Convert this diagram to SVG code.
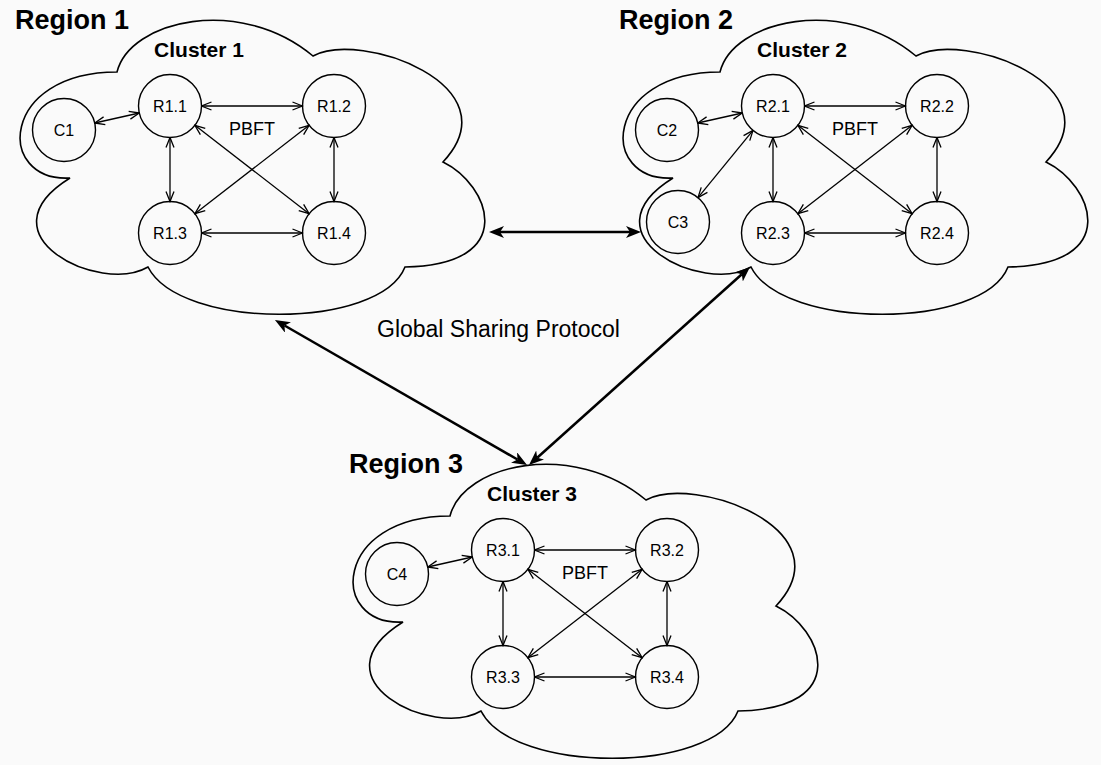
<svg xmlns="http://www.w3.org/2000/svg" xmlns:xlink="http://www.w3.org/1999/xlink" width="1101" height="765" viewBox="0 0 1101 765">
<style>
.cloud{fill:none;stroke:#000;stroke-width:1.6}
.node circle{fill:none;stroke:#000;stroke-width:1.4}
.lbl{font-family:"Liberation Sans",Arial,sans-serif;font-size:16px;text-anchor:middle;fill:#000}
.pbft{font-family:"Liberation Sans",Arial,sans-serif;font-size:18px;text-anchor:middle;fill:#000}
.region{font-family:"Liberation Sans",Arial,sans-serif;font-size:27px;font-weight:bold;text-anchor:middle;fill:#000}
.cluster{font-family:"Liberation Sans",Arial,sans-serif;font-size:21px;font-weight:bold;text-anchor:middle;fill:#000}
.gsp{font-family:"Liberation Sans",Arial,sans-serif;font-size:23px;fill:#000}
.thin{fill:none;stroke:#000;stroke-width:1.3;marker-start:url(#open);marker-end:url(#open)}
.thick{fill:none;stroke:#000;stroke-width:2.5;marker-start:url(#classic);marker-end:url(#classic)}
</style>
<defs>
<marker id="open" markerUnits="userSpaceOnUse" viewBox="0 0 12 12" markerWidth="12" markerHeight="12" refX="11" refY="6" orient="auto-start-reverse">
<path d="M1,2 L11,6 L1,10" fill="none" stroke="#000" stroke-width="1.3"/>
</marker>
<marker id="classic" markerUnits="userSpaceOnUse" viewBox="0 0 16 12" markerWidth="16" markerHeight="12" refX="4" refY="6" orient="auto-start-reverse">
<path d="M0,0 L15,6 L0,12 L4,6 Z" fill="#000"/>
</marker>
<path id="cloudShape" d="M117,72 C130,20 240,-5 313,56 C360,30 515,85 443,162 C490,185 520,265 405,267 C380,330 180,330 148,267 C100,295 -22,235 70,178 C-5,182 0,72 117,72 Z"/>
</defs>
<rect x="0" y="0" width="1101" height="765" fill="#fafafa"/>

<g id="region1">
<use xlink:href="#cloudShape" class="cloud"/>
<text class="region" x="72" y="29">Region 1</text>
<text class="cluster" x="199" y="57">Cluster 1</text>
<text class="pbft" x="252" y="135">PBFT</text>
</g>
<g id="region2">
<use xlink:href="#cloudShape" class="cloud" transform="translate(603,0)"/>
<text class="region" x="676" y="29">Region 2</text>
<text class="cluster" x="802" y="57">Cluster 2</text>
<text class="pbft" x="855" y="135">PBFT</text>
</g>
<g id="region3">
<use xlink:href="#cloudShape" class="cloud" transform="translate(333,444)"/>
<text class="region" x="406" y="473">Region 3</text>
<text class="cluster" x="532" y="501">Cluster 3</text>
<text class="pbft" x="585" y="579">PBFT</text>
</g>

<g id="C1" class="node"><circle cx="64" cy="130" r="31.5"/><text class="lbl" x="64" y="135.7">C1</text></g>
<g id="R1.1" class="node"><circle cx="170" cy="106" r="31.5"/><text class="lbl" x="170" y="111.7">R1.1</text></g>
<g id="R1.2" class="node"><circle cx="334" cy="106" r="31.5"/><text class="lbl" x="334" y="111.7">R1.2</text></g>
<g id="R1.3" class="node"><circle cx="170" cy="233" r="31.5"/><text class="lbl" x="170" y="238.7">R1.3</text></g>
<g id="R1.4" class="node"><circle cx="334" cy="233" r="31.5"/><text class="lbl" x="334" y="238.7">R1.4</text></g>

<g id="C2" class="node"><circle cx="667" cy="130" r="31.5"/><text class="lbl" x="667" y="135.7">C2</text></g>
<g id="C3" class="node"><circle cx="678" cy="222" r="31.5"/><text class="lbl" x="678" y="227.7">C3</text></g>
<g id="R2.1" class="node"><circle cx="773" cy="106" r="31.5"/><text class="lbl" x="773" y="111.7">R2.1</text></g>
<g id="R2.2" class="node"><circle cx="937" cy="106" r="31.5"/><text class="lbl" x="937" y="111.7">R2.2</text></g>
<g id="R2.3" class="node"><circle cx="773" cy="233" r="31.5"/><text class="lbl" x="773" y="238.7">R2.3</text></g>
<g id="R2.4" class="node"><circle cx="937" cy="233" r="31.5"/><text class="lbl" x="937" y="238.7">R2.4</text></g>

<g id="C4" class="node"><circle cx="397" cy="574" r="31.5"/><text class="lbl" x="397" y="579.7">C4</text></g>
<g id="R3.1" class="node"><circle cx="503" cy="550" r="31.5"/><text class="lbl" x="503" y="555.7">R3.1</text></g>
<g id="R3.2" class="node"><circle cx="667" cy="550" r="31.5"/><text class="lbl" x="667" y="555.7">R3.2</text></g>
<g id="R3.3" class="node"><circle cx="503" cy="677" r="31.5"/><text class="lbl" x="503" y="682.7">R3.3</text></g>
<g id="R3.4" class="node"><circle cx="667" cy="677" r="31.5"/><text class="lbl" x="667" y="682.7">R3.4</text></g>

<g id="connectors">
<path class="thin" d="M94.7,123 L139.3,113"/>
<path class="thin" d="M201.5,106 L302.5,106"/>
<path class="thin" d="M170,137.5 L170,201.5"/>
<path class="thin" d="M334,137.5 L334,201.5"/>
<path class="thin" d="M201.5,233 L302.5,233"/>
<path class="thin" d="M194.9,125.3 L309.1,213.7"/>
<path class="thin" d="M309.1,125.3 L194.9,213.7"/>

<path class="thin" d="M697.7,123 L742.3,113"/>
<path class="thin" d="M698,197.6 L753,130.4"/>
<path class="thin" d="M804.5,106 L905.5,106"/>
<path class="thin" d="M773,137.5 L773,201.5"/>
<path class="thin" d="M937,137.5 L937,201.5"/>
<path class="thin" d="M804.5,233 L905.5,233"/>
<path class="thin" d="M797.9,125.3 L912.1,213.7"/>
<path class="thin" d="M912.1,125.3 L797.9,213.7"/>

<path class="thin" d="M427.7,567 L472.3,557"/>
<path class="thin" d="M534.5,550 L635.5,550"/>
<path class="thin" d="M503,581.5 L503,645.5"/>
<path class="thin" d="M667,581.5 L667,645.5"/>
<path class="thin" d="M534.5,677 L635.5,677"/>
<path class="thin" d="M527.9,569.3 L642.1,657.7"/>
<path class="thin" d="M642.1,569.3 L527.9,657.7"/>

<path class="thick" d="M500,232 L630,232"/>
<path class="thick" d="M284.5,325.5 L517.5,459.5"/>
<path class="thick" d="M741.8,274.3 L537.2,457.7"/>
<text class="gsp" x="377" y="337">Global Sharing Protocol</text>
</g>
</svg>
